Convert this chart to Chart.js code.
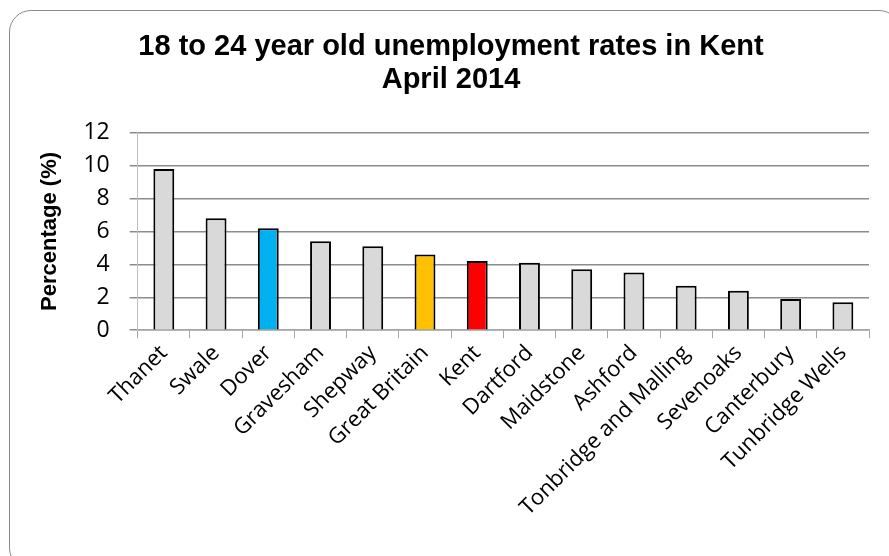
<!DOCTYPE html>
<html>
<head>
<meta charset="utf-8">
<script src="https://cdn.jsdelivr.net/npm/chart.js@4"></script>
<style>
  html, body { margin: 0; padding: 0; background: #fff; overflow: hidden; }
  #frame {
    position: absolute; left: 9px; top: 10px; width: 892px; height: 560px;
    border: 1.5px solid #8a8a8a; border-radius: 22px; box-sizing: border-box;
  }
  #wrap { position: absolute; left: 0; top: 0; width: 889px; height: 556px; }
</style>
</head>
<body>
<div id="frame"></div>
<div id="wrap"><canvas id="c" width="889" height="556"></canvas></div>
<script>
const areas = ['Thanet', 'Swale', 'Dover', 'Gravesham', 'Shepway', 'Great Britain', 'Kent',
  'Dartford', 'Maidstone', 'Ashford', 'Tonbridge and Malling', 'Sevenoaks', 'Canterbury', 'Tunbridge Wells'];
const rates = [9.8, 6.8, 6.2, 5.4, 5.1, 4.6, 4.2, 4.1, 3.7, 3.5, 2.7, 2.4, 1.9, 1.7];
const barColours = ['#d9d9d9', '#d9d9d9', '#00b0f0', '#d9d9d9', '#d9d9d9', '#ffc000', '#ff0000',
  '#d9d9d9', '#d9d9d9', '#d9d9d9', '#d9d9d9', '#d9d9d9', '#d9d9d9', '#d9d9d9'];
const yTicks = [0, 2, 4, 6, 8, 10, 12];

new Chart(document.getElementById('c'), {
  type: 'bar',
  data: {
    labels: areas,
    datasets: [{
      data: rates,
      backgroundColor: barColours,
      borderColor: '#000',
      borderWidth: 2,
      barPercentage: 0.4,
      categoryPercentage: 1
    }]
  },
  options: {
    responsive: false,
    animation: false,
    layout: { padding: { left: 33, right: 20, top: 30, bottom: 33 } },
    plugins: {
      legend: { display: false },
      tooltip: { enabled: false },
      title: {
        display: true,
        text: ['18 to 24 year old unemployment rates in Kent', 'April 2014'],
        color: '#000',
        font: { family: 'Liberation Sans, Arial', size: 29, weight: 'bold', lineHeight: 1.15 },
        padding: { top: 0, bottom: 36 }
      }
    },
    scales: {
      x: {
        grid: { offset: true, drawOnChartArea: false, color: '#a6a6a6', lineWidth: 1, tickLength: 8 },
        border: { color: '#a6a6a6', width: 1.5 },
        ticks: {
          color: '#000', maxRotation: 45, minRotation: 45, padding: 2,
          font: { family: 'Open Sans', size: 22 }
        }
      },
      y: {
        min: 0, max: 12,
        afterBuildTicks: axis => { axis.ticks = yTicks.map(v => ({ value: v })); },
        grid: { color: '#8c8c8c', lineWidth: 1.5, tickLength: 8 },
        border: { color: '#bfbfbf', width: 1 },
        ticks: { color: '#000', padding: 20, font: { family: 'Open Sans', size: 23 } },
        title: {
          display: true, text: 'Percentage (%)', color: '#000',
          font: { family: 'Liberation Sans, Arial', size: 22, weight: 'bold' },
          padding: { top: 4, bottom: 0 }
        }
      }
    }
  }
});
</script>
</body>
</html>
